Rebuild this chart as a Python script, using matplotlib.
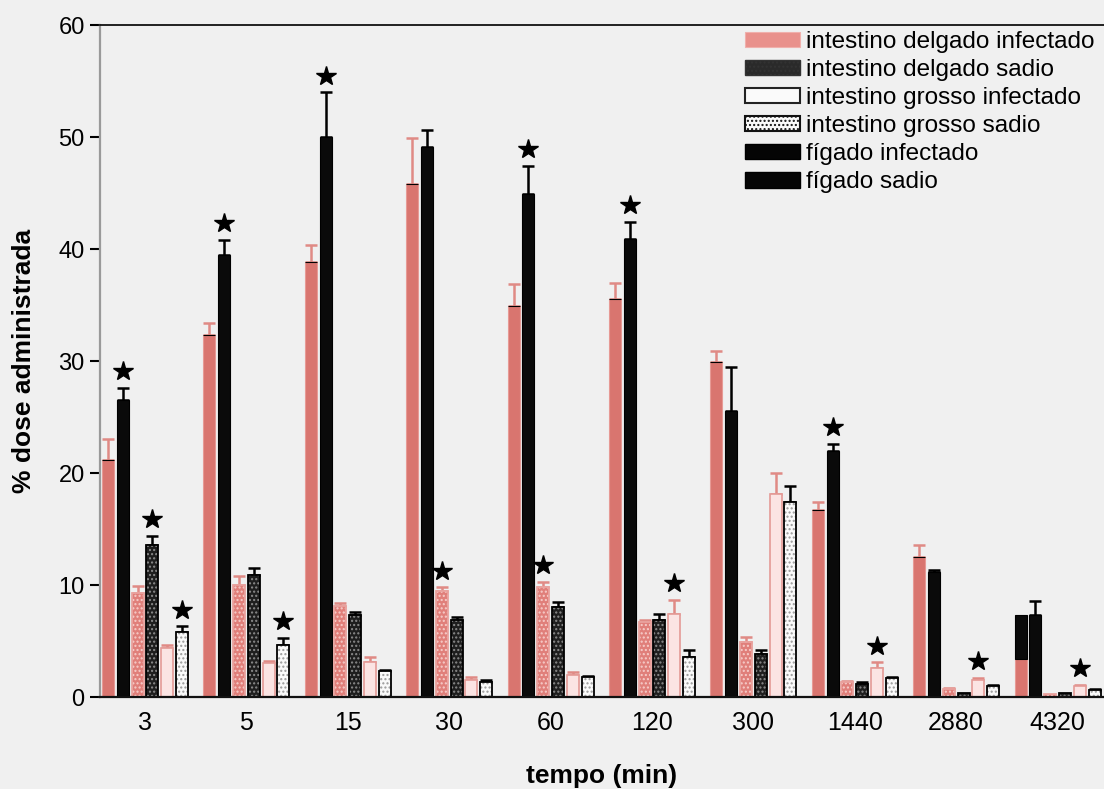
import matplotlib
matplotlib.use("Agg")
import matplotlib.pyplot as plt
import numpy as np
from matplotlib.patches import Patch
from matplotlib.transforms import offset_copy

plt.rcParams['font.family'] = ['Liberation Sans', 'DejaVu Sans']
plt.rcParams['hatch.linewidth'] = 1.0

# time points (min)
tempos = ["3", "5", "15", "30", "60", "120", "300", "1440", "2880", "4320"]

# bar series, left to right inside each time group (% of administered dose)
rosa_liso = [21.2, 32.3, 38.8, 45.8, 34.9, 35.5, 29.9, 16.7, 12.5, 3.4]
rosa_liso_err = [1.8, 1.1, 1.6, 4.1, 2.0, 1.5, 1.0, 0.7, 1.1, 0.0]
preto = [26.5, 39.5, 50.0, 49.1, 44.9, 40.9, 25.5, 22.0, 11.2, 7.3]
preto_err = [1.1, 1.3, 4.0, 1.5, 2.5, 1.5, 4.0, 0.6, 0.1, 1.3]
rosa_pontos = [9.3, 10.0, 8.1, 9.5, 9.8, 6.7, 4.9, 1.3, 0.7, 0.3]
rosa_pontos_err = [0.6, 0.8, 0.3, 0.3, 0.5, 0.2, 0.5, 0.1, 0.1, 0.0]
escuro_pontos = [13.6, 10.9, 7.3, 6.9, 8.0, 6.9, 3.8, 1.2, 0.4, 0.35]
escuro_pontos_err = [0.8, 0.6, 0.3, 0.2, 0.5, 0.5, 0.4, 0.1, 0.0, 0.0]
rosa_claro = [4.4, 3.0, 3.1, 1.5, 2.0, 7.4, 18.1, 2.6, 1.5, 1.0]
rosa_claro_err = [0.2, 0.2, 0.5, 0.3, 0.2, 1.3, 1.9, 0.5, 0.2, 0.1]
branco_pontos = [5.8, 4.6, 2.3, 1.3, 1.8, 3.6, 17.4, 1.7, 1.0, 0.6]
branco_pontos_err = [0.5, 0.7, 0.1, 0.2, 0.1, 0.6, 1.4, 0.1, 0.1, 0.1]

# black cap drawn over the first bar of the last group
sobreposicao_preta = [0, 0, 0, 0, 0, 0, 0, 0, 0, 3.9]

# significance marks: (time group index, series index)
estrelas = [(0, 1), (0, 3), (0, 5), (1, 1), (1, 5), (2, 1), (3, 2), (4, 1),
            (4, 2), (5, 1), (5, 4), (7, 1), (7, 4), (8, 4), (9, 4)]

legenda = ["intestino delgado infectado", "intestino delgado sadio",
           "intestino grosso infectado", "intestino grosso sadio",
           "fígado infectado", "fígado sadio"]

BG = '#f0f0f0'
fig = plt.figure(figsize=(11.04, 7.89), dpi=100, facecolor=BG)
ax = fig.add_axes([100 / 1104, 92 / 789, 1004 / 1104, 672 / 789])
ax.set_facecolor(BG)

x = np.arange(len(tempos))
pitch = 0.146
width = 0.118

series = [
    (rosa_liso, rosa_liso_err, dict(color='#d9756f', edgecolor='#e79a95', linewidth=0.8), None, '#e08a85'),
    (preto, preto_err, dict(color='#0a0a0a', edgecolor='#000000', linewidth=0.8), None, '#000000'),
    (rosa_pontos, rosa_pontos_err, dict(color='#e07f7a', edgecolor='#f6cdca', linewidth=0, hatch='....'), '#e9a29e', '#e08a85'),
    (escuro_pontos, escuro_pontos_err, dict(color='#1e1e1e', edgecolor='#8c8c8c', linewidth=0, hatch='....'), '#000000', '#000000'),
    (rosa_claro, rosa_claro_err, dict(color='#fbe4e3', edgecolor='#e49a96', linewidth=1.2), None, '#e08a85'),
    (branco_pontos, branco_pontos_err, dict(color='#fafafa', edgecolor='#9a9a9a', linewidth=0, hatch='....'), '#000000', '#000000'),
]

tops = []
for j, (vals, errs, style, outline, ecol) in enumerate(series):
    vals = np.asarray(vals, dtype=float)
    errs = np.asarray(errs, dtype=float)
    xs = x + (j - 2.5) * pitch
    ax.bar(xs, vals, width, zorder=2, **style)
    if outline is not None:
        ax.bar(xs, vals, width, fill=False, edgecolor=outline, linewidth=1.3, zorder=2.1)
    m = errs > 0
    ax.errorbar(xs[m], vals[m], yerr=[np.zeros(m.sum()), errs[m]], fmt='none',
                ecolor=ecol, elinewidth=1.8, capsize=4, capthick=1.8, zorder=1.9)
    tops.append((xs, vals + errs))

# stacked black cap on the last group's first bar
ax.bar(x - 2.5 * pitch, sobreposicao_preta, width, bottom=rosa_liso,
       color='#0a0a0a', edgecolor='#000000', linewidth=0.8, zorder=2.2)

star_tr = offset_copy(ax.transData, fig=fig, y=12, units='points')
for g, s in estrelas:
    xs, t = tops[s]
    ax.plot(xs[g], t[g], marker='*', ms=15, color='black', linestyle='none',
            transform=star_tr, zorder=3, clip_on=False)

ax.set_xlim(-0.444, 9.458)
ax.set_ylim(0, 60)
ax.set_xticks(x)
ax.set_xticklabels(tempos)
ax.set_yticks(np.arange(0, 61, 10))
ax.tick_params(axis='x', length=0, labelsize=18, pad=10)
ax.tick_params(axis='y', direction='out', length=7.5, width=1.5, labelsize=17, pad=3.5)

ax.spines['right'].set_visible(False)
ax.spines['top'].set_color('#111111')
ax.spines['top'].set_linewidth(1.3)
ax.spines['bottom'].set_color('#111111')
ax.spines['bottom'].set_linewidth(1.6)
ax.spines['left'].set_color('#9a9a9a')
ax.spines['left'].set_linewidth(1.6)

fig.text(602 / 1104, 1 - 776 / 789, "tempo (min)", ha='center', va='center',
         fontsize=19, fontweight='bold')
fig.text(24 / 1104, 1 - 361 / 789, "% dose administrada", ha='center', va='center',
         rotation=90, fontsize=19, fontweight='bold')

handles = [
    Patch(facecolor='#e9918c', edgecolor='#f0b0ac', linewidth=0.8),
    Patch(facecolor='#2a2a2a', edgecolor='#333333', hatch='....', linewidth=1.0),
    Patch(facecolor='#fafafa', edgecolor='#222222', linewidth=1.5),
    Patch(facecolor='#fafafa', edgecolor='#111111', hatch='....', linewidth=1.5),
    Patch(facecolor='#050505', edgecolor='#000000'),
    Patch(facecolor='#050505', edgecolor='#000000'),
]
fig.legend(handles, legenda, loc='upper left', bbox_to_anchor=(745 / 1104, 1 - 31 / 789),
           frameon=False, fontsize=17.5, handlelength=2.25, handleheight=0.6,
           handletextpad=0.25, labelspacing=0.25, borderpad=0, borderaxespad=0)

fig.savefig("out.png", dpi=100, facecolor=BG)
